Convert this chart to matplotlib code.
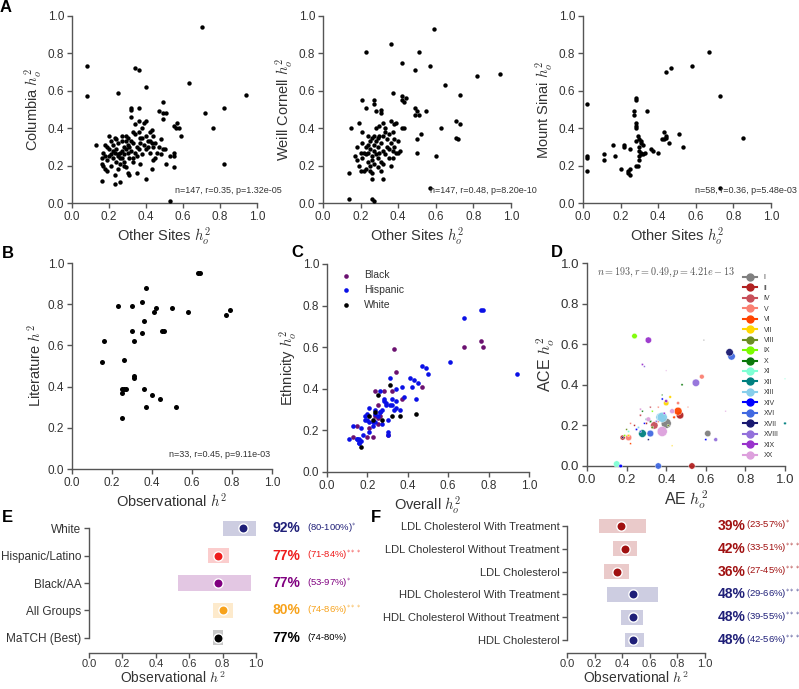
import numpy as np
import matplotlib.pyplot as plt
from matplotlib.lines import Line2D

plt.rcParams['font.family'] = ['Liberation Sans', 'DejaVu Sans']
plt.rcParams['mathtext.fontset'] = 'cm'

TXT = '#333333'
SPINE = '#555555'

# ---------------------------------------------------------------- data: A
col_x = [0.70, 0.08, 0.08, 0.34, 0.36, 0.25, 0.40, 0.63, 0.94, 0.72, 0.82, 0.76, 0.82, 0.53,
         0.49, 0.47, 0.49, 0.51, 0.49, 0.32, 0.32, 0.59, 0.55, 0.57, 0.56, 0.58, 0.55, 0.55,
         0.55, 0.53, 0.51, 0.44, 0.40, 0.43, 0.48, 0.49, 0.50,
         0.13, 0.16, 0.16, 0.16, 0.17, 0.17, 0.18, 0.18, 0.18, 0.19, 0.19, 0.20, 0.20, 0.20,
         0.21, 0.21, 0.21, 0.22, 0.22, 0.22, 0.23, 0.23, 0.23, 0.24, 0.24, 0.24, 0.25, 0.25,
         0.25, 0.26, 0.26, 0.26, 0.26, 0.27, 0.27, 0.27, 0.27, 0.28, 0.28, 0.28, 0.29, 0.29,
         0.29, 0.29, 0.30, 0.30, 0.30, 0.30, 0.31, 0.31, 0.31, 0.32, 0.32, 0.32, 0.33, 0.33,
         0.33, 0.34, 0.34, 0.34, 0.35, 0.35, 0.35, 0.36, 0.36, 0.36, 0.37, 0.37, 0.38, 0.38,
         0.38, 0.39, 0.39, 0.40, 0.40, 0.40, 0.41, 0.41, 0.42, 0.42, 0.42, 0.43, 0.43, 0.44,
         0.44, 0.45, 0.46, 0.47, 0.48, 0.45, 0.37, 0.36, 0.28, 0.23, 0.19, 0.25, 0.33]
col_y = [0.94, 0.73, 0.57, 0.72, 0.71, 0.59, 0.62, 0.64, 0.58, 0.48, 0.51, 0.40, 0.21, 0.01,
         0.54, 0.49, 0.48, 0.48, 0.45, 0.51, 0.50, 0.36, 0.41, 0.43, 0.40, 0.40, 0.27, 0.25,
         0.19, 0.25, 0.21, 0.23, 0.13, 0.18, 0.34, 0.29, 0.29,
         0.31, 0.12, 0.21, 0.24, 0.27, 0.20, 0.18, 0.31, 0.25, 0.17, 0.23, 0.36, 0.29, 0.25,
         0.33, 0.26, 0.20, 0.28, 0.24, 0.31, 0.15, 0.10, 0.27, 0.29, 0.22, 0.34, 0.26, 0.25,
         0.18, 0.27, 0.24, 0.21, 0.11, 0.36, 0.28, 0.33, 0.24, 0.30, 0.26, 0.22, 0.36, 0.33,
         0.29, 0.19, 0.31, 0.27, 0.16, 0.35, 0.30, 0.24, 0.15, 0.46, 0.33, 0.28, 0.38, 0.32,
         0.22, 0.37, 0.42, 0.27, 0.30, 0.25, 0.16, 0.38, 0.44, 0.29, 0.35, 0.32, 0.40, 0.35,
         0.26, 0.43, 0.31, 0.44, 0.36, 0.29, 0.33, 0.30, 0.38, 0.27, 0.33, 0.39, 0.32, 0.30,
         0.36, 0.32, 0.27, 0.30, 0.26, 0.24, 0.21, 0.51, 0.20, 0.35, 0.30, 0.32, 0.24]

wc_x = [0.59, 0.23, 0.36, 0.51, 0.42, 0.49, 0.57, 0.82, 0.94, 0.65, 0.73, 0.37, 0.42, 0.42,
        0.44, 0.43, 0.55, 0.49, 0.50, 0.49, 0.51, 0.63, 0.71, 0.73, 0.71, 0.72, 0.60, 0.52,
        0.50, 0.50, 0.57, 0.14, 0.26, 0.27, 0.14, 0.15, 0.21, 0.23, 0.19, 0.27, 0.27, 0.31,
        0.31, 0.26, 0.32,
        0.17, 0.18, 0.18, 0.19, 0.20, 0.20, 0.21, 0.21, 0.22, 0.22, 0.23, 0.23, 0.24, 0.24,
        0.24, 0.25, 0.25, 0.25, 0.25, 0.26, 0.26, 0.26, 0.27, 0.27, 0.27, 0.28, 0.28, 0.28,
        0.29, 0.29, 0.29, 0.30, 0.30, 0.30, 0.31, 0.31, 0.31, 0.32, 0.32, 0.32, 0.33, 0.33,
        0.33, 0.34, 0.34, 0.35, 0.35, 0.35, 0.36, 0.36, 0.36, 0.37, 0.37, 0.38, 0.38, 0.38,
        0.39, 0.39, 0.40, 0.40, 0.41, 0.42, 0.43, 0.37, 0.23, 0.26, 0.28, 0.21, 0.32, 0.29,
        0.27, 0.24]
wc_y = [0.93, 0.81, 0.85, 0.81, 0.75, 0.71, 0.73, 0.68, 0.69, 0.63, 0.58, 0.59, 0.57, 0.55,
        0.56, 0.54, 0.49, 0.51, 0.49, 0.47, 0.47, 0.40, 0.44, 0.42, 0.35, 0.34, 0.25, 0.37,
        0.34, 0.27, 0.08, 0.02, 0.02, 0.01, 0.16, 0.40, 0.55, 0.51, 0.43, 0.55, 0.53, 0.50,
        0.48, 0.13, 0.13,
        0.25, 0.23, 0.30, 0.20, 0.17, 0.27, 0.32, 0.24, 0.17, 0.27, 0.26, 0.30, 0.22, 0.36,
        0.27, 0.17, 0.20, 0.33, 0.29, 0.25, 0.35, 0.23, 0.28, 0.31, 0.21, 0.26, 0.33, 0.40,
        0.24, 0.30, 0.19, 0.36, 0.27, 0.41, 0.32, 0.22, 0.17, 0.43, 0.28, 0.21, 0.38, 0.26,
        0.40, 0.34, 0.30, 0.29, 0.37, 0.24, 0.44, 0.32, 0.20, 0.28, 0.38, 0.42, 0.34, 0.30,
        0.27, 0.43, 0.33, 0.27, 0.28, 0.40, 0.40, 0.24, 0.18, 0.16, 0.49, 0.38, 0.36, 0.35,
        0.36, 0.31]

ms_x = [0.67, 0.58, 0.47, 0.44, 0.73, 0.02, 0.85, 0.73, 0.34, 0.28, 0.28, 0.27, 0.27, 0.28,
        0.28, 0.28, 0.43, 0.44, 0.44, 0.46, 0.43, 0.51, 0.53, 0.02, 0.02, 0.02, 0.11, 0.11,
        0.16, 0.17, 0.22, 0.22, 0.20, 0.24, 0.24, 0.25, 0.25, 0.25, 0.28, 0.29, 0.28, 0.29,
        0.30, 0.31, 0.31, 0.32, 0.30, 0.30, 0.31, 0.31, 0.32, 0.30, 0.30, 0.36, 0.37, 0.40,
        0.42, 0.33]
ms_y = [0.81, 0.73, 0.72, 0.70, 0.57, 0.53, 0.35, 0.08, 0.49, 0.55, 0.56, 0.49, 0.47, 0.43,
        0.41, 0.40, 0.38, 0.36, 0.35, 0.32, 0.34, 0.37, 0.30, 0.25, 0.24, 0.17, 0.23, 0.26,
        0.31, 0.25, 0.31, 0.30, 0.18, 0.17, 0.16, 0.18, 0.15, 0.29, 0.33, 0.36, 0.20, 0.20,
        0.34, 0.33, 0.32, 0.31, 0.30, 0.28, 0.27, 0.26, 0.26, 0.25, 0.23, 0.29, 0.28, 0.27,
        0.34, 0.27]

site_names = ['Columbia', 'Weill Cornell', 'Mount Sinai']
site_notes = ['n=147, r=0.35, p=1.32e-05', 'n=147, r=0.48, p=8.20e-10', 'n=58, r=0.36, p=5.48e-03']

# ---------------------------------------------------------------- data: B
lit_x = [0.63, 0.64, 0.37, 0.23, 0.30, 0.35, 0.41, 0.42, 0.50, 0.58, 0.77, 0.79, 0.36, 0.30,
         0.35, 0.45, 0.46, 0.16, 0.31, 0.15, 0.26, 0.31, 0.31, 0.25, 0.25, 0.27, 0.36, 0.40,
         0.44, 0.37, 0.52, 0.25, 0.26]
lit_y = [0.95, 0.95, 0.88, 0.79, 0.79, 0.81, 0.76, 0.78, 0.78, 0.76, 0.75, 0.77, 0.72, 0.67,
         0.66, 0.67, 0.67, 0.62, 0.62, 0.52, 0.53, 0.45, 0.44, 0.39, 0.37, 0.39, 0.39, 0.36,
         0.34, 0.30, 0.30, 0.25, 0.39]

# ---------------------------------------------------------------- data: C
eth_names = ['Black', 'Hispanic', 'White']
eth_colors = ['#6b1170', '#0a10e6', '#000000']
black_x = [0.33, 0.34, 0.24, 0.28, 0.32, 0.25, 0.24, 0.25, 0.25, 0.37, 0.47, 0.68, 0.76, 0.77,
           0.15, 0.13, 0.20, 0.23, 0.30, 0.21, 0.26]
black_y = [0.59, 0.48, 0.39, 0.39, 0.39, 0.32, 0.27, 0.26, 0.23, 0.35, 0.41, 0.60, 0.63, 0.60,
           0.22, 0.17, 0.17, 0.17, 0.18, 0.21, 0.27]
hisp_x = [0.11, 0.13, 0.15, 0.15, 0.16, 0.16, 0.16, 0.17, 0.17, 0.18, 0.19, 0.19, 0.21, 0.20,
          0.21, 0.21, 0.23, 0.23, 0.24, 0.24, 0.25, 0.26, 0.26, 0.26, 0.27, 0.27, 0.28, 0.28,
          0.29, 0.29, 0.30, 0.30, 0.30, 0.31, 0.31, 0.32, 0.32, 0.33, 0.34, 0.34, 0.34, 0.36,
          0.37, 0.38, 0.41, 0.42, 0.43, 0.45, 0.44, 0.47, 0.49, 0.50, 0.61, 0.68, 0.76, 0.77,
          0.94, 0.24, 0.20]
hisp_y = [0.16, 0.22, 0.16, 0.16, 0.16, 0.14, 0.14, 0.15, 0.21, 0.18, 0.25, 0.27, 0.24, 0.25,
          0.31, 0.19, 0.22, 0.24, 0.28, 0.30, 0.27, 0.29, 0.29, 0.39, 0.23, 0.30, 0.35, 0.34,
          0.33, 0.32, 0.19, 0.18, 0.25, 0.45, 0.32, 0.32, 0.35, 0.30, 0.40, 0.34, 0.31, 0.30,
          0.41, 0.36, 0.45, 0.41, 0.44, 0.43, 0.35, 0.51, 0.50, 0.47, 0.53, 0.74, 0.78, 0.78,
          0.47, 0.24, 0.28]
white_x = [0.17, 0.25, 0.31, 0.21, 0.23, 0.24, 0.27, 0.32, 0.36, 0.44]
white_y = [0.12, 0.37, 0.42, 0.27, 0.25, 0.29, 0.25, 0.27, 0.27, 0.28]

# ---------------------------------------------------------------- data: D
d_names = ['I', 'II', 'IV', 'V', 'VI', 'VII', 'VIII', 'IX', 'X', 'XI', 'XII', 'XIII', 'XIV',
           'XVI', 'XVII', 'XVIII', 'XIX', 'XX']
d_colors = ['#808080', '#b22222', '#c8505a', '#fa8072', '#ff4500', '#ffd700', '#6b8e23',
            '#7cfc00', '#0a780a', '#7fffd4', '#008080', '#87ceeb', '#0000ff', '#4169e1',
            '#191970', '#9370db', '#9932cc', '#dda0dd']
d_grp = ['I', 'I', 'I',
         'II', 'II', 'II', 'II', 'II',
         'IV', 'IV', 'IV',
         'V', 'V', 'V', 'V', 'V', 'V',
         'VI', 'VI', 'VI', 'VI',
         'VII', 'VII', 'VII', 'VII',
         'VIII', 'VIII', 'VIII',
         'IX', 'IX', 'IX',
         'X', 'X', 'X', 'X',
         'XI', 'XI', 'XI',
         'XII', 'XII', 'XII',
         'XIII', 'XIII', 'XIII',
         'XIV', 'XIV', 'XIV', 'XIV', 'XIV',
         'XVI', 'XVI', 'XVI', 'XVI',
         'XVII', 'XVII', 'XVII',
         'XVIII', 'XVIII', 'XVIII', 'XVIII',
         'XIX', 'XIX', 'XIX', 'XIX',
         'XX', 'XX', 'XX', 'XX', 'XX', 'XX']
d_x = [0.40, 0.61, 0.59,
       0.47, 0.18, 0.53, 0.30, 0.24,
       0.34, 0.27, 0.32,
       0.58, 0.21, 0.46, 0.22, 0.36, 0.51,
       0.46, 0.44, 0.22, 0.36,
       0.40, 0.42, 0.21, 0.43,
       0.33, 0.20, 0.41,
       0.24, 0.19, 0.33,
       0.48, 0.32, 0.28, 0.38,
       0.15, 0.21, 1.00,
       0.28, 1.00, 0.30,
       0.37, 0.38, 0.26,
       0.17, 0.60, 0.25, 0.29, 0.38,
       0.73, 0.32, 0.36, 0.27,
       0.72, 0.18, 0.31,
       0.55, 0.65, 0.35, 0.29,
       0.31, 0.28, 0.40, 0.39,
       0.38, 0.31, 0.43, 0.27, 0.40, 0.70]
d_y = [0.21, 0.16, 0.62,
       0.25, 0.14, 0.00, 0.21, 0.20,
       0.20, 0.25, 0.29,
       0.44, 0.14, 0.31, 0.21, 0.29, 0.29,
       0.27, 0.24, 0.11, 0.22,
       0.31, 0.34, 0.15, 0.10,
       0.19, 0.18, 0.20,
       0.64, 0.15, 0.27,
       0.40, 0.22, 0.27, 0.35,
       0.01, 0.17, 0.43,
       0.16, 0.21, 0.23,
       0.24, 0.24, 0.19,
       0.00, 0.13, 0.18, 0.21, 0.33,
       0.54, 0.16, 0.00, 0.17,
       0.56, 0.14, 0.13,
       0.41, 0.13, 0.22, 0.49,
       0.62, 0.50, 0.32, 0.26,
       0.17, 0.23, 0.27, 0.28, 0.47, 0.27]
d_s = [40, 16, 0.8,
       22, 10, 16, 2, 1.5,
       22, 2, 1.5,
       9, 16, 4, 1.5, 1.5, 1,
       25, 3, 1.5, 2,
       12, 3, 2, 1,
       3, 1.5, 2,
       12, 2, 1.5,
       2, 3, 1.5, 1,
       16, 2, 0.8,
       24, 3, 2,
       30, 40, 2,
       5, 2, 2, 1.5, 2,
       22, 18, 16, 2,
       22, 1.5, 1.5,
       22, 6, 2, 1.5,
       16, 2, 4, 2,
       40, 9, 10, 2, 0.8, 1]

# ---------------------------------------------------------------- data: E
e_labels = ['White', 'Hispanic/Latino', 'Black/AA', 'All Groups', 'MaTCH (Best)']
e_est = [92, 77, 77, 80, 77]
e_lo = [80, 71, 53, 74, 74]
e_hi = [100, 84, 97, 86, 80]
e_sig = ['*', '***', '*', '***', '']
e_colors = ['#1f1f78', '#ee1c1c', '#800080', '#f7a21b', '#000000']

# ---------------------------------------------------------------- data: F
f_labels = ['LDL Cholesterol With Treatment', 'LDL Cholesterol Without Treatment',
            'LDL Cholesterol', 'HDL Cholesterol With Treatment',
            'HDL Cholesterol Without Treatment', 'HDL Cholesterol']
f_est = [39, 42, 36, 48, 48, 48]
f_lo = [23, 33, 27, 29, 39, 42]
f_hi = [57, 51, 45, 66, 55, 56]
f_sig = ['*', '***', '***', '***', '***', '***']
f_colors = ['#a01010', '#a01010', '#a01010', '#1f1f78', '#1f1f78', '#1f1f78']

# ---------------------------------------------------------------- layout helpers
W, H = 799, 689
fig = plt.figure(figsize=(W / 100, H / 100), dpi=100)


def add_ax(l, r, t, b):
    return fig.add_axes([l / W, 1 - b / H, (r - l) / W, (b - t) / H])


def style(ax, size=8.5):
    for s in ['top', 'right']:
        ax.spines[s].set_visible(False)
    for s in ['left', 'bottom']:
        ax.spines[s].set_color(SPINE)
        ax.spines[s].set_linewidth(1.0)
    ax.tick_params(direction='out', length=3.5, width=1, color=SPINE,
                   labelsize=size, labelcolor=TXT, pad=2)


ticks = np.arange(0, 1.01, 0.2)
tick_lbls = [f'{t:.1f}' for t in ticks]


def unit_axes(ax, size=8.5):
    style(ax, size)
    ax.set_xlim(0, 1)
    ax.set_ylim(0, 1)
    ax.set_xticks(ticks, tick_lbls)
    ax.set_yticks(ticks, tick_lbls)


def panel_letter(x, y, s):
    fig.text(x / W, 1 - y / H, s, fontsize=12, fontweight='bold', ha='center', va='center')


# ---------------------------------------------------------------- A
a_boxes = [(72, 257, 16, 203), (323, 511, 16, 203), (583, 771, 16, 203)]
a_data = [(col_x, col_y), (wc_x, wc_y), (ms_x, ms_y)]
for box, (xs, ys), name, note in zip(a_boxes, a_data, site_names, site_notes):
    ax = add_ax(*box)
    unit_axes(ax)
    ax.scatter(xs, ys, s=10, c='black', linewidths=0, clip_on=False, zorder=3)
    ax.set_xlabel('Other Sites $h_o^2$', fontsize=10.5, color=TXT, labelpad=2)
    ax.set_ylabel(f'{name} $h_o^2$', fontsize=10.5, color=TXT, labelpad=3)
    ax.text(1.135, 0.065, note, transform=ax.transAxes, ha='right', va='center',
            fontsize=6.5, color=TXT)
panel_letter(6, 8, 'A')

# ---------------------------------------------------------------- B
ax = add_ax(72, 272, 263, 469)
unit_axes(ax)
ax.scatter(lit_x, lit_y, s=13, c='black', linewidths=0, clip_on=False, zorder=3)
ax.set_xlabel('Observational $h^2$', fontsize=10.5, color=TXT, labelpad=2)
ax.set_ylabel('Literature $h^2$', fontsize=10.5, color=TXT, labelpad=3)
ax.text(0.99, 0.068, 'n=33, r=0.45, p=9.11e-03', transform=ax.transAxes, ha='right',
        va='center', fontsize=6.5, color=TXT)
panel_letter(8, 254, 'B')

# ---------------------------------------------------------------- C
ax = add_ax(327, 529, 264, 472)
unit_axes(ax)
for xs, ys, name, c in zip([black_x, hisp_x, white_x], [black_y, hisp_y, white_y],
                           eth_names, eth_colors):
    ax.scatter(xs, ys, s=11, c=c, linewidths=0, label=name, clip_on=False, zorder=3)
ax.set_xlabel('Overall $h_o^2$', fontsize=10.5, color=TXT, labelpad=2)
ax.set_ylabel('Ethnicity $h_o^2$', fontsize=10.5, color=TXT, labelpad=3)
ax.legend(loc='upper left', bbox_to_anchor=(0.07, 0.97), frameon=False, fontsize=7.5,
          handlelength=1.0, handletextpad=1.2, labelspacing=0.45, borderaxespad=0,
          borderpad=0, scatterpoints=1, labelcolor=TXT)
panel_letter(297, 253, 'C')

# ---------------------------------------------------------------- D
ax = add_ax(587, 785, 263, 466)
unit_axes(ax, size=9.5)
d_grp_arr = np.array(d_grp)
handles = []
for name, c in zip(d_names, d_colors):
    m = d_grp_arr == name
    ax.scatter(np.array(d_x)[m], np.array(d_y)[m], s=np.array(d_s)[m] * 1.3, c=c,
               edgecolors='white', linewidths=0.3, alpha=0.95, clip_on=False, zorder=3)
    handles.append(Line2D([], [], color=c, marker='o', markersize=5, lw=1.5, label=name))
ax.set_xlabel('AE $h_o^2$', fontsize=11.5, color=TXT, labelpad=2)
ax.set_ylabel('ACE $h_o^2$', fontsize=11.5, color=TXT, labelpad=3)
ax.text(0.05, 0.955, '$n = 193, r = 0.49, p = 4.21e-13$', transform=ax.transAxes,
        ha='left', va='center', fontsize=7.3, color='#555555')
ax.legend(handles=handles, loc='upper left', bbox_to_anchor=(0.79, 0.945), frameon=False,
          fontsize=5, handlelength=2.0, handletextpad=0.9, labelspacing=0.5,
          borderaxespad=0, borderpad=0, labelcolor=TXT)
panel_letter(557, 253, 'D')


# ---------------------------------------------------------------- E, F
def forest(ax, labels, est, lo, hi, sig, colors, x_pct, x_ci, box_h):
    n = len(labels)
    style(ax)
    ax.tick_params(axis='x', labelsize=8, pad=1)
    for i in range(n):
        c = colors[i]
        ax.barh(i, (hi[i] - lo[i]) / 100, left=lo[i] / 100, height=box_h, color=c,
                alpha=0.22, linewidth=0)
        ax.scatter(est[i] / 100, i, s=45, color=c, edgecolors='white', linewidths=1.0,
                   zorder=3)
        ax.text(x_pct, i, f'{est[i]}%', fontsize=10, fontweight='bold', color=c,
                va='center', ha='left')
        ci = f'({lo[i]}-{hi[i]}%)'
        if sig[i]:
            ci += '$^{' + sig[i] + '}$'
        ax.text(x_ci, i, ci, fontsize=6.8, color=c, va='center', ha='left')
    ax.set_xlim(0, 1)
    ax.set_ylim(n - 1 + 0.55, -0.55)
    ax.set_yticks(range(n), labels)
    ax.set_xticks(ticks, tick_lbls)
    ax.spines['left'].set_bounds(0, n - 1)
    ax.spines['bottom'].set_bounds(0, 1)
    ax.set_xlabel('Observational $h^2$', fontsize=10, color=TXT)
    ax.xaxis.set_label_coords(0.5, -0.125)


ax = add_ax(89, 256, 513, 653)
forest(ax, e_labels, e_est, e_lo, e_hi, e_sig, e_colors, 1.10, 1.305, 0.55)
panel_letter(7, 517, 'E')

ax = add_ax(567, 705, 513, 653)
forest(ax, f_labels, f_est, f_lo, f_hi, f_sig, f_colors, 1.094, 1.295, 0.62)
ax.tick_params(axis='y', labelsize=8)
panel_letter(376, 517, 'F')

fig.savefig('out.png', dpi=100)
